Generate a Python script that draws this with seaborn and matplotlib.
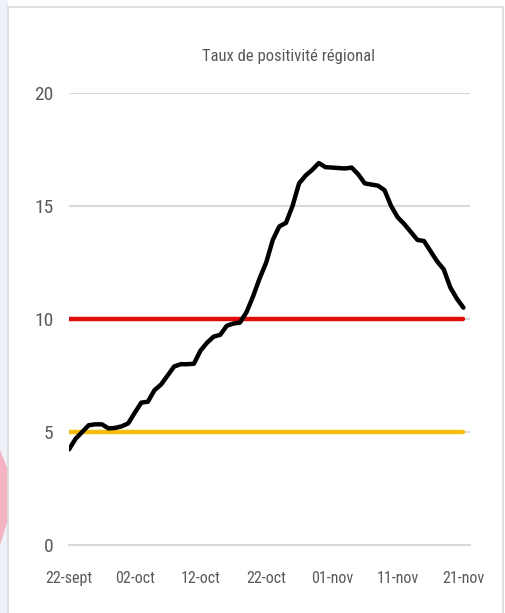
import pandas as pd
import numpy as np
import matplotlib
matplotlib.use('Agg')
import matplotlib.pyplot as plt
from matplotlib.patches import Rectangle, Polygon
from matplotlib.lines import Line2D
import seaborn as sns

# Daily regional positivity rate, 22 Sept -> 21 Nov
start_date = '2020-09-22'
positivity = [4.23, 4.7, 5.0, 5.3, 5.34, 5.34, 5.16, 5.18, 5.25, 5.38,
              5.85, 6.3, 6.34, 6.85, 7.1, 7.5, 7.9, 8.0, 8.0, 8.02,
              8.6, 8.95, 9.22, 9.3, 9.7, 9.8, 9.84, 10.3, 11.0, 11.8,
              12.5, 13.5, 14.1, 14.25, 15.0, 16.0, 16.35, 16.6, 16.9, 16.72,
              16.7, 16.68, 16.66, 16.7, 16.4, 16.0, 15.95, 15.9, 15.7, 15.0,
              14.5, 14.2, 13.85, 13.5, 13.45, 13.0, 12.55, 12.2, 11.4, 10.9,
              10.5]
alert_level = 10
vigilance_level = 5

tick_labels = ['22-sept', '02-oct', '12-oct', '22-oct', '01-nov', '11-nov', '21-nov']
y_ticks = [0, 5, 10, 15, 20]

dates = pd.date_range(start_date, periods=len(positivity), freq='D')
df = pd.DataFrame({'date': dates,
                   'taux': positivity,
                   'alerte': [alert_level] * len(dates),
                   'vigilance': [vigilance_level] * len(dates)})

sns.set_style('white')
# condensed face to mimic the narrow font of the original
plt.rcParams['font.family'] = ['DejaVu Sans Condensed', 'Liberation Sans Narrow',
                               'Roboto Condensed', 'DejaVu Sans']
plt.rcParams['font.stretch'] = 'condensed'

fig = plt.figure(figsize=(5.06, 6.13), dpi=100)
fig.patch.set_facecolor('white')

# background strip + frame like the original screenshot
fig.patches.append(Rectangle((0, 0), 8 / 506, 1, transform=fig.transFigure,
                             facecolor='#eef1f7', edgecolor='none', zorder=0))
fig.patches.append(Polygon([(0, 1 - 450 / 613), (8 / 506, 1 - 470 / 613),
                            (8 / 506, 1 - 520 / 613), (0, 1 - 545 / 613)],
                           closed=True, transform=fig.transFigure,
                           facecolor='#f3b3c0', edgecolor='none', zorder=0))
for xs, ys in [([8 / 506, 503 / 506], [1 - 7 / 613, 1 - 7 / 613]),
               ([8 / 506, 8 / 506], [0, 1 - 7 / 613]),
               ([503 / 506, 503 / 506], [0, 1 - 7 / 613])]:
    fig.lines.append(Line2D(xs, ys, transform=fig.transFigure,
                            color='#d9d9d9', lw=1.2))

ax = fig.add_axes([69 / 506, 68 / 613, (470 - 69) / 506, (545 - 93) / 613])
ax.set_facecolor('none')

for v in y_ticks[1:]:
    ax.axhline(v, color='#d9d9d9', lw=1.5, zorder=1)

sns.lineplot(data=df, x='date', y='vigilance', color='#f6bd0f', lw=3.2, ax=ax, zorder=2)
sns.lineplot(data=df, x='date', y='alerte', color='#e30a0a', lw=3.2, ax=ax, zorder=2)
sns.lineplot(data=df, x='date', y='taux', color='black', lw=3.2, ax=ax, zorder=3)

ax.set_ylim(0, 20)
ax.set_xlim(dates[0], dates[0] + pd.Timedelta(days=61))
ax.set_yticks(y_ticks)
ax.set_yticklabels([str(v) for v in y_ticks])
tick_dates = [dates[0] + pd.Timedelta(days=10 * i) for i in range(len(tick_labels))]
ax.set_xticks(tick_dates)
ax.set_xticklabels(tick_labels)

for s in ['top', 'right', 'left']:
    ax.spines[s].set_visible(False)
ax.spines['bottom'].set_color('#d9d9d9')
ax.spines['bottom'].set_linewidth(1.5)

ax.tick_params(axis='x', length=7, width=1, color='#d9d9d9', direction='out',
               labelsize=11.5, labelcolor='#595959', pad=12)
ax.tick_params(axis='y', length=0, labelsize=14, labelcolor='#595959', pad=11)
ax.set_xlabel('')
ax.set_ylabel('')

fig.text(288 / 506, 1 - 57 / 613, 'Taux de positivité régional',
         ha='center', va='center', fontsize=12, color='#595959')

fig.savefig('out.png', dpi=100)
